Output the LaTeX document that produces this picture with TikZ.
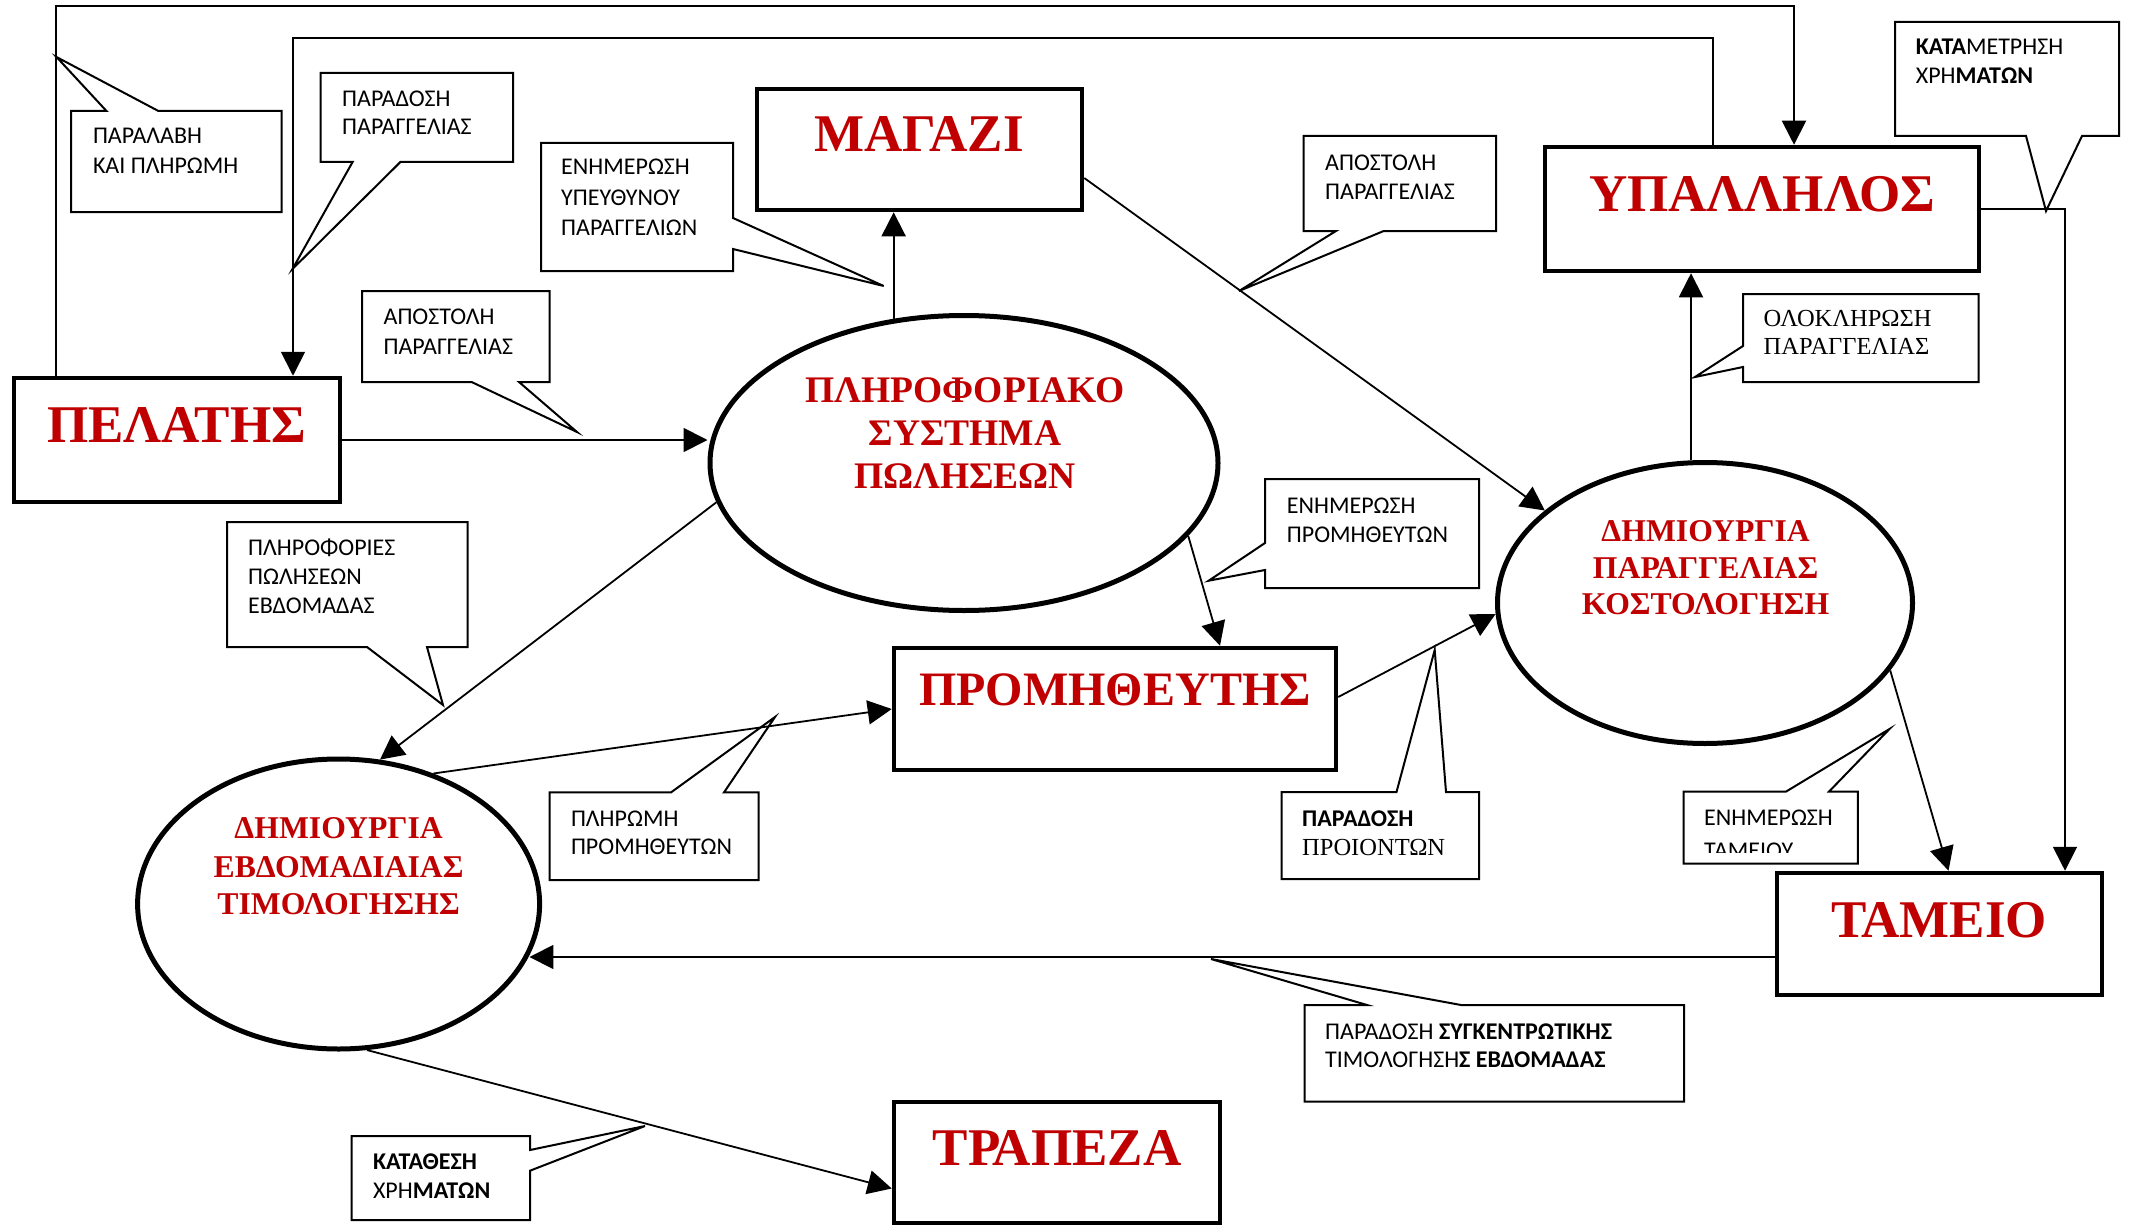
\documentclass[tikz,border=0pt]{standalone}
\usepackage{fontspec}
\setmainfont{Liberation Serif}
\newfontfamily\calfont{Carlito}
\usetikzlibrary{shapes.geometric,arrows.meta,calc}
\definecolor{tred}{RGB}{192,0,0}
\begin{document}
\begin{tikzpicture}[x=1pt,y=-1pt,
  bigbox/.style={draw,rectangle,line width=4.5pt,inner sep=0pt},
  oval/.style={draw,ellipse,line width=5pt,inner sep=0pt},
  conn/.style={line width=1.8pt},
  arr/.style={conn,-{Triangle[length=24pt,width=24pt]}},
  callout/.style={draw,line width=2pt,line join=miter},
  ttl/.style={font=\bfseries\fontsize{53}{60}\selectfont,text=tred,inner sep=0pt,anchor=base},
  ottl/.style={font=\bfseries\fontsize{37.5}{43}\selectfont,text=tred,inner sep=0pt,anchor=base},
  sttl/.style={font=\bfseries\fontsize{31.7}{37}\selectfont,text=tred,inner sep=0pt,anchor=base},
  ctext/.style={font=\calfont\fontsize{24}{30}\selectfont,inner sep=0pt,anchor=base west},
  stext/.style={font=\fontsize{24.5}{30}\selectfont,inner sep=0pt,anchor=base west}]

\fill[white] (0,0) rectangle (2131,1228);
\useasboundingbox (0,0) rectangle (2131,1228);

% ---------- boxes ----------
\node[bigbox,minimum width=326pt,minimum height=124pt] (pel) at (176.75,440) {};
\node[bigbox,minimum width=325pt,minimum height=121pt] (mag) at (919.5,149.5) {};
\node[bigbox,minimum width=434pt,minimum height=124pt] (ypa) at (1762,209) {};
\node[bigbox,minimum width=442pt,minimum height=122pt] (prom) at (1115,709) {};
\node[bigbox,minimum width=325pt,minimum height=122pt] (tam) at (1939.5,934) {};
\node[bigbox,minimum width=326pt,minimum height=121pt] (trap) at (1057,1162.5) {};

% ---------- ellipses ----------
\node[oval,minimum width=508pt,minimum height=295pt] (e1) at (964,463) {};
\node[oval,minimum width=415pt,minimum height=281pt] (e2) at (1705,603) {};
\node[oval,minimum width=402pt,minimum height=290pt] (e3) at (338.6,904) {};

% ---------- titles ----------
\node[ttl] (tpel) at (176.5,442) {ΠΕΛΑΤΗΣ};
\node[ttl] (tmag) at (919,152) {ΜΑΓΑΖΙ};
\node[ttl] (typa) at (1762,211) {ΥΠΑΛΛΗΛΟΣ};
\node[ttl,font=\bfseries\fontsize{48}{56}\selectfont] (tprom) at (1115,705) {ΠΡΟΜΗΘΕΥΤΗΣ};
\node[ttl] (ttam) at (1939,937) {ΤΑΜΕΙΟ};
\node[ttl] (ttrap) at (1057,1165) {ΤΡΑΠΕΖΑ};

\node[ottl] (e1a) at (965,402) {ΠΛΗΡΟΦΟΡΙΑΚΟ};
\node[ottl] (e1b) at (965,445) {ΣΥΣΤΗΜΑ};
\node[ottl] (e1c) at (965,488) {ΠΩΛΗΣΕΩΝ};

\node[sttl] (e2a) at (1705.6,541) {ΔΗΜΙΟΥΡΓΙΑ};
\node[sttl] (e2b) at (1705.6,578.5) {ΠΑΡΑΓΓΕΛΙΑΣ};
\node[sttl] (e2c) at (1705.6,614.5) {ΚΟΣΤΟΛΟΓΗΣΗ};

\node[sttl] (e3a) at (338.6,838.7) {ΔΗΜΙΟΥΡΓΙΑ};
\node[sttl] (e3b) at (338.6,877) {ΕΒΔΟΜΑΔΙΑΙΑΣ};
\node[sttl] (e3c) at (338.6,914) {ΤΙΜΟΛΟΓΗΣΗΣ};

% ---------- connectors ----------
\coordinate (t1) at (56,6);
\coordinate (t2) at (1794,6);
\coordinate (t3) at (1713,38);
\coordinate (t4) at (293,38);
\draw[arr] (t1 |- pel.north) -- (t1) -- (t2) -- (t2 |- ypa.north);
\draw[arr] (t3 |- ypa.north) -- (t3) -- (t4) -- (t4 |- pel.north);
\draw[arr] (pel.east) -- (pel.east -| e1.west);
\draw[arr] (e1.116) -- (e1.116 |- mag.south);
\draw[arr] ([yshift=-28.5pt]mag.east) -- (e2.150);
\draw[arr] (e1.-18) -- ([xshift=105pt]prom.north);
\draw[arr] (e1.189) -- (e3.74);
\draw[arr] (e3.54) -- (prom.west);
\draw[arr] ([yshift=12pt]prom.east) -- (e2.183);
\draw[arr] ([xshift=-14pt]e2.north) -- ([xshift=-14pt]e2.north |- ypa.south);
\draw[arr] (ypa.east) -| ([xshift=125.5pt]tam.north);
\draw[arr] (e2.-20) -- ([xshift=9pt]tam.north);
\draw[arr] ([yshift=-23pt]tam.west) -- ([yshift=-23pt]tam.west -| e3.-15);
\draw[arr] (e3.-79) -- ([yshift=-26pt]trap.west);

% ---------- callouts ----------
% C1
\draw[callout] (71,111) -- (106.5,111) -- (56.5,57) -- (158.4,111) -- (281.5,111) -- (281.5,212) -- (71,212) -- cycle;
\node[ctext] (c1a) at (92.8,144) {ΠΑΡΑΛΑΒΗ};
\node[ctext] (c1b) at (92.8,174) {ΚΑΙ ΠΛΗΡΩΜΗ};
% C2
\draw[callout] (320.5,73) -- (513,73) -- (513,162) -- (400.4,162) -- (292.5,269) -- (352.6,162) -- (320.5,162) -- cycle;
\node[ctext] (c2a) at (342,107) {ΠΑΡΑΔΟΣΗ};
\node[ctext] (c2b) at (342,135) {ΠΑΡΑΓΓΕΛΙΑΣ};
% C3
\draw[callout] (541,143) -- (733,143) -- (733,218) -- (883.7,286) -- (733,249) -- (733,271) -- (541,271) -- cycle;
\node[ctext] (c3a) at (561,175) {ΕΝΗΜΕΡΩΣΗ};
\node[ctext] (c3b) at (561,205) {ΥΠΕΥΘΥΝΟΥ};
\node[ctext] (c3c) at (561,235) {ΠΑΡΑΓΓΕΛΙΩΝ};
% C4
\draw[callout] (362,291) -- (549.6,291) -- (549.6,382) -- (519,382) -- (577,432) -- (471.6,382) -- (362,382) -- cycle;
\node[ctext] (c4a) at (383.4,324) {ΑΠΟΣΤΟΛΗ};
\node[ctext] (c4b) at (383.4,354) {ΠΑΡΑΓΓΕΛΙΑΣ};
% C5
\draw[callout] (1303.6,136) -- (1496,136) -- (1496,231) -- (1383.7,231) -- (1239,291) -- (1336,231) -- (1303.6,231) -- cycle;
\node[ctext] (c5a) at (1325,170) {ΑΠΟΣΤΟΛΗ};
\node[ctext] (c5b) at (1325,199) {ΠΑΡΑΓΓΕΛΙΑΣ};
% C6
\draw[callout] (1895,22) -- (2119,22) -- (2119,136) -- (2082,136) -- (2046,211) -- (2026,136) -- (1895,136) -- cycle;
\node[ctext] (c6a) at (1915.6,55) {\textbf{ΚΑΤΑ}ΜΕΤΡΗΣΗ};
\node[ctext] (c6b) at (1915.6,84) {ΧΡΗ\textbf{ΜΑΤΩΝ}};
% C7
\draw[callout] (1743,294) -- (1978.5,294) -- (1978.5,382) -- (1743,382) -- (1743,367) -- (1695,377) -- (1743,346) -- cycle;
\node[stext] (c7a) at (1763.5,326) {ΟΛΟΚΛΗΡΩΣΗ};
\node[stext] (c7b) at (1763.5,354) {ΠΑΡΑΓΓΕΛΙΑΣ};
% C8
\draw[callout] (1265,479) -- (1479,479) -- (1479,588) -- (1265,588) -- (1265,570) -- (1208.7,580.7) -- (1265,543) -- cycle;
\node[ctext] (c8a) at (1286.7,513) {ΕΝΗΜΕΡΩΣΗ};
\node[ctext] (c8b) at (1286.7,542) {ΠΡΟΜΗΘΕΥΤΩΝ};
% C9
\draw[callout] (227,522) -- (467.5,522) -- (467.5,647) -- (427,647) -- (443,705) -- (367,647) -- (227,647) -- cycle;
\node[ctext] (c9a) at (248,555) {ΠΛΗΡΟΦΟΡΙΕΣ};
\node[ctext] (c9b) at (248,584) {ΠΩΛΗΣΕΩΝ};
\node[ctext] (c9c) at (248,613) {ΕΒΔΟΜΑΔΑΣ};
% C10
\draw[callout] (549.6,792.4) -- (671,792.4) -- (775,717) -- (724,792.4) -- (758.7,792.4) -- (758.7,880) -- (549.6,880) -- cycle;
\node[ctext] (c10a) at (570.8,826) {ΠΛΗΡΩΜΗ};
\node[ctext] (c10b) at (570.8,854) {ΠΡΟΜΗΘΕΥΤΩΝ};
% C11
\draw[callout] (1281.6,792) -- (1396.5,792) -- (1434.7,650) -- (1446,792) -- (1479,792) -- (1479,879) -- (1281.6,879) -- cycle;
\node[ctext] (c11a) at (1302,826) {\textbf{ΠΑΡΑΔΟΣΗ}};
\node[stext] (c11b) at (1302,855.5) {ΠΡΟΙΟΝΤΩΝ};
% C12
\draw[callout] (1683.5,791.6) -- (1786,791.6) -- (1889.5,729) -- (1829,791.6) -- (1857.8,791.6) -- (1857.8,863.6) -- (1683.5,863.6) -- cycle;
\node[ctext] (c12a) at (1704,825.5) {ΕΝΗΜΕΡΩΣΗ};
\begin{scope}
\clip (1683.5,791.6) rectangle (1857.8,852.5);
\node[ctext] (c12b) at (1704,858) {ΤΑΜΕΙΟΥ};
\end{scope}
% C13
\draw[callout] (1304.6,1005) -- (1367,1005) -- (1211,959) -- (1461,1005) -- (1684,1005) -- (1684,1101.7) -- (1304.6,1101.7) -- cycle;
\node[ctext] (c13a) at (1325,1039) {ΠΑΡΑΔΟΣΗ \textbf{ΣΥΓΚΕΝΤΡΩΤΙΚΗΣ}};
\node[ctext] (c13b) at (1325,1067) {ΤΙΜΟΛΟΓΗΣΗ\textbf{Σ ΕΒΔΟΜΑΔΑΣ}};
% C14
\draw[callout] (351.7,1136) -- (530,1136) -- (530,1150) -- (645,1126) -- (530,1170.7) -- (530,1220) -- (351.7,1220) -- cycle;
\node[ctext] (c14a) at (372.8,1169) {\textbf{ΚΑΤΑΘΕΣΗ}};
\node[ctext] (c14b) at (372.8,1198) {ΧΡΗ\textbf{ΜΑΤΩΝ}};
\end{tikzpicture}
\end{document}
